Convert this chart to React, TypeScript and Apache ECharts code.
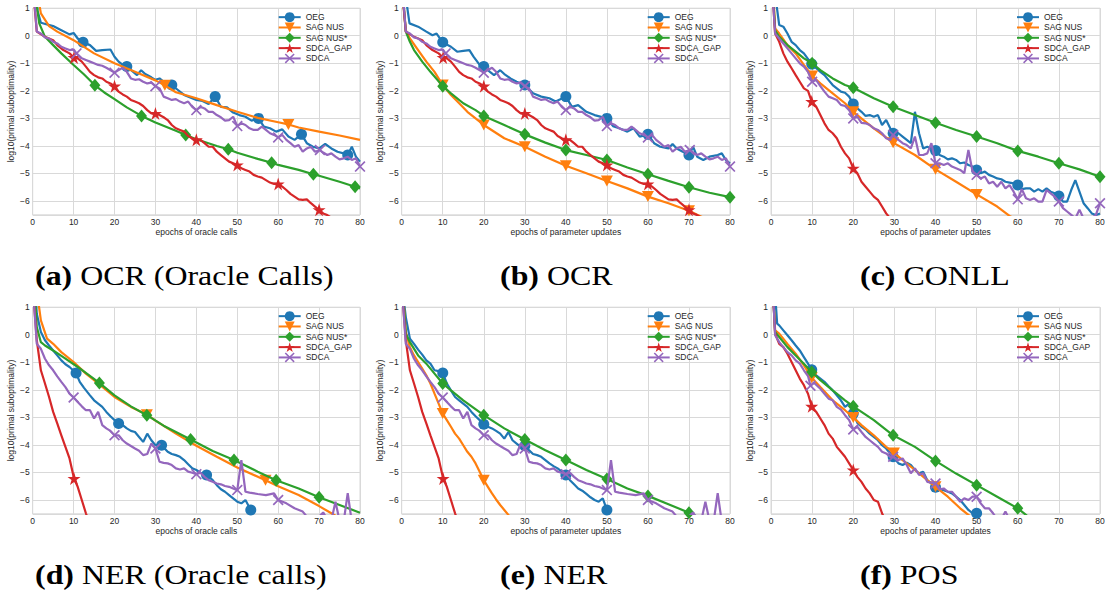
import React, { useEffect, useRef } from "react";
import * as echarts from "echarts";

type P = [number, number][];

// ---------- names, categories, tick labels ----------
const SERIES_NAMES = ["OEG", "SAG NUS", "SAG NUS*", "SDCA_GAP", "SDCA"];
const X_TICKS = [0, 10, 20, 30, 40, 50, 60, 70, 80];
const Y_TICKS = [1, 0, -1, -2, -3, -4, -5, -6];
const CAPTION_LABELS = ["(a)", "(b)", "(c)", "(d)", "(e)", "(f)"];
const CAPTION_TITLES = ["OCR (Oracle Calls)", "OCR", "CONLL", "NER (Oracle calls)", "NER", "POS"];
const X_NAMES = [
  "epochs of oracle calls",
  "epochs of parameter updates",
  "epochs of parameter updates",
  "epochs of oracle calls",
  "epochs of parameter updates",
  "epochs of parameter updates",
];
const Y_NAME = "log10(primal suboptimality)";

// ---------- (a) OCR, oracle calls ----------
const A_OEG: P = [[0.8,1.5],[1.2,0.9],[2,0.47],[5,0.35],[7,0.2],[9,0.05],[10,0.1],[11,-0.1],[12.3,-0.24],[14,-0.34],[15.5,-0.55],[17,-0.52],[19,-0.5],[20,-0.76],[21,-0.94],[22,-1.06],[23,-1.12],[24.5,-1.3],[25.5,-1.43],[26.5,-1.25],[27.5,-1.39],[29,-1.51],[30,-1.6],[31,-1.55],[32.5,-1.73],[34,-1.79],[35.5,-1.97],[37,-2.15],[38.5,-2.24],[40,-2.33],[41.5,-2.37],[43,-2.48],[44.6,-2.21],[46,-2.58],[47.5,-2.6],[49,-2.79],[50.5,-2.88],[52,-2.94],[53.5,-3.08],[55.2,-3.0],[56.5,-3.3],[58,-3.36],[59.5,-3.48],[61,-3.4],[62.5,-3.66],[64,-3.78],[65.7,-3.58],[67,-3.9],[68.5,-4.03],[70,-4.09],[71.5,-3.93],[73,-4.09],[74.5,-4.21],[76,-4.27],[77,-4.33],[78,-4.03],[79,-4.39],[80,-4.57]];
const A_OEG_MK = [12.3, 23, 34, 44.6, 55.2, 65.7, 77];
const A_SAG: P = [[1.2,1.5],[2,0.81],[4,0.35],[6,0.15],[10,-0.16],[15,-0.64],[20,-1.0],[25,-1.31],[30,-1.62],[32.3,-1.8],[35,-2.05],[40,-2.27],[45,-2.52],[50,-2.76],[55,-2.98],[60,-3.14],[62.5,-3.22],[65,-3.33],[70,-3.48],[75,-3.62],[80,-3.78]];
const A_SAG_MK = [32.3, 62.5];
const A_SAGS: P = [[0.6,1.5],[1.6,0.45],[3,-0.04],[5,-0.34],[7,-0.64],[10,-1.06],[12.5,-1.4],[15.2,-1.8],[17.5,-2.06],[20,-2.3],[23,-2.6],[26.6,-2.91],[30,-3.15],[35,-3.45],[37.4,-3.6],[40,-3.76],[45,-4.0],[47.8,-4.12],[50,-4.25],[55,-4.47],[58.4,-4.61],[60,-4.69],[65,-4.87],[68.6,-5.03],[70,-5.08],[75,-5.3],[78.8,-5.48],[80,-5.54]];
const A_SAGS_MK = [15.2, 26.6, 37.4, 47.8, 58.4, 68.6, 78.8];
const A_GAP: P = [[0.2,1.5],[1,0.15],[3,-0.04],[5,-0.16],[6,-0.34],[7.5,-0.52],[9,-0.64],[10.1,-0.79],[11,-0.82],[12,-0.94],[13,-1.12],[14,-1.31],[15,-1.43],[16,-1.51],[17,-1.55],[18,-1.67],[19,-1.73],[20,-1.83],[21,-2.03],[22,-2.13],[23,-2.21],[24,-2.33],[25,-2.39],[26,-2.45],[27,-2.55],[28,-2.7],[29,-2.82],[30,-2.82],[31,-2.88],[32,-2.96],[33,-3.06],[34,-3.24],[35,-3.36],[36,-3.42],[37,-3.48],[38,-3.64],[39,-3.72],[40,-3.78],[41,-3.78],[42,-3.9],[43,-4.03],[44,-4.03],[45,-4.21],[46,-4.33],[47,-4.45],[48,-4.57],[49,-4.63],[50,-4.69],[51,-4.81],[52,-4.87],[53,-4.93],[54,-5.05],[55,-5.11],[56,-5.15],[57,-5.24],[58,-5.33],[59,-5.38],[60,-5.38],[61,-5.48],[62,-5.6],[63,-5.74],[64,-5.84],[65,-5.94],[66,-5.96],[67,-5.94],[68,-6.08],[69,-6.2],[70,-6.32],[71,-6.45],[72,-6.51],[74,-6.7]];
const A_GAP_MK = [10.1, 20, 30, 40, 50, 60, 70];
const A_SDCA: P = [[0.3,1.5],[1,0.15],[2,0.08],[3,-0.06],[4,-0.1],[5,-0.22],[6,-0.28],[7,-0.4],[8,-0.46],[9,-0.52],[10,-0.5],[10.7,-0.64],[12,-0.82],[13,-0.88],[14,-0.94],[15,-1.0],[16,-1.06],[17,-1.09],[18,-1.16],[20,-1.34],[21,-1.25],[22,-1.16],[23,-1.31],[24,-1.55],[25,-1.6],[26,-1.58],[27,-1.67],[28,-1.73],[29,-1.7],[30,-1.83],[31,-1.91],[32,-2.21],[33,-2.27],[34,-2.33],[35,-2.3],[36,-2.39],[37,-2.45],[38,-2.39],[39,-2.58],[40,-2.7],[41,-2.58],[42,-2.64],[43,-2.76],[44,-2.76],[45,-2.88],[46,-2.96],[47,-3.08],[48,-3.06],[49,-2.94],[50,-3.28],[51,-3.18],[52,-3.24],[53,-3.36],[54,-3.42],[55,-3.42],[56,-3.3],[57,-3.42],[58,-3.54],[59,-3.6],[60,-3.69],[61,-3.6],[62,-3.78],[63,-3.9],[64,-4.03],[65,-3.97],[66,-4.21],[67,-4.09],[68,-4.03],[69,-4.21],[70.2,-4.15],[71,-4.24],[72,-4.33],[73,-4.27],[74,-4.39],[75,-4.49],[76,-4.45],[77,-4.39],[78,-4.51],[79,-4.45],[80,-4.75]];
const A_SDCA_MK = [10.7, 20, 30, 40, 50, 60, 70.2, 80];

// ---------- (b) OCR, parameter updates ----------
const B_OEG: P = [[0.9,1.5],[1.9,0.45],[4,0.33],[6,0.15],[7.5,0.02],[8.5,0.08],[10,-0.24],[12,-0.4],[13.5,-0.58],[15,-0.55],[16.5,-0.52],[17.5,-0.76],[19,-1.06],[20,-1.12],[21.5,-1.31],[22.5,-1.43],[24,-1.25],[25,-1.39],[26.5,-1.55],[28,-1.67],[30,-1.79],[32,-2.09],[34,-2.21],[36,-2.27],[37.5,-2.39],[40,-2.21],[41.5,-2.58],[43,-2.52],[45,-2.76],[47,-2.88],[50,-3.0],[51.5,-3.28],[53,-3.36],[55,-3.48],[56.5,-3.36],[58,-3.66],[60,-3.58],[61.5,-3.9],[63,-4.03],[65,-4.09],[66,-3.93],[67,-4.09],[68.5,-4.21],[69.5,-4.27],[70,-4.33],[71,-4.03],[72,-4.39],[73.5,-4.51],[75,-4.39],[77,-4.33],[78,-4.27],[79,-4.51],[80,-4.63]];
const B_OEG_MK = [10, 20, 30, 40, 50, 60, 70];
const B_SAG: P = [[0.25,1.5],[1,0.2],[2,-0.1],[4,-0.52],[6,-0.94],[8,-1.31],[10,-1.79],[12,-2.15],[14,-2.45],[16,-2.76],[18,-3.0],[20,-3.24],[25,-3.72],[30,-4.03],[35,-4.39],[40,-4.72],[45,-4.99],[50,-5.27],[55,-5.54],[60,-5.84],[65,-6.08],[70,-6.35],[72,-6.5],[75,-6.7]];
const B_SAG_MK = [10, 20, 30, 40, 50, 60, 70];
const B_SAGS: P = [[0.25,1.5],[1,0.15],[2,-0.22],[3,-0.52],[5,-0.94],[7,-1.31],[10,-1.83],[12,-2.09],[15,-2.45],[18,-2.7],[20,-2.91],[25,-3.24],[30,-3.58],[35,-3.88],[40,-4.15],[45,-4.33],[50,-4.51],[55,-4.78],[60,-5.03],[65,-5.27],[70,-5.5],[75,-5.7],[80,-5.86]];
const B_SAGS_MK = [10, 20, 30, 40, 50, 60, 70, 80];

// ---------- (c) CONLL ----------
const C_OEG: P = [[1.0,1.5],[2,0.39],[3,0.33],[4,0.08],[5,-0.22],[6,-0.34],[7,-0.52],[8,-0.64],[9.9,-1.03],[11,-1.18],[12,-1.31],[13,-1.43],[14,-1.61],[15,-1.79],[16,-1.91],[17,-2.03],[18,-2.07],[19,-2.21],[20,-2.48],[21,-2.64],[22,-2.76],[23,-2.91],[24,-2.88],[25,-2.94],[26,-2.88],[27,-3.24],[28,-3.06],[29,-3.36],[29.7,-3.54],[31,-3.54],[32,-3.66],[33,-3.78],[34,-3.9],[35,-2.76],[36,-3.54],[37,-4.09],[38,-4.03],[39,-4.09],[40,-4.17],[41,-4.33],[42,-4.39],[43,-4.49],[44,-4.45],[45,-4.51],[46,-4.63],[47,-4.6],[48,-4.69],[49,-4.75],[50,-4.87],[51,-4.99],[52,-4.93],[53,-5.05],[54,-5.11],[55,-5.18],[56,-5.21],[57,-5.3],[58,-5.33],[59,-5.36],[60,-5.42],[61,-5.57],[62,-5.54],[63,-5.54],[64,-5.66],[65,-5.57],[66,-5.66],[67,-5.54],[68,-5.66],[69,-5.72],[70,-5.82],[71,-6.02],[72,-6.02],[73,-5.6],[74,-5.24],[75,-5.66],[76,-6.08],[77,-6.26],[78,-6.45],[79,-6.51],[80,-6.45]];
const C_OEG_MK = [9.9, 20, 29.7, 40, 50, 60, 70];
const C_SAG: P = [[0.55,1.5],[1,0.27],[2,0.08],[4,-0.34],[6,-0.64],[8,-1.06],[10,-1.46],[12,-1.73],[15,-2.09],[18,-2.45],[20,-2.76],[25,-3.36],[29.7,-3.88],[35,-4.33],[40,-4.85],[45,-5.3],[50,-5.76],[55,-6.2],[58,-6.54],[60,-6.7]];
const C_SAG_MK = [10, 20, 29.7, 40, 50];
const C_SAGS: P = [[0.5,1.5],[1,0.2],[2,-0.04],[4,-0.34],[6,-0.58],[8,-0.82],[10,-1.0],[12,-1.25],[15,-1.55],[18,-1.79],[20,-1.89],[25,-2.27],[29.7,-2.58],[35,-2.88],[40,-3.16],[45,-3.42],[50,-3.66],[55,-3.9],[60,-4.18],[65,-4.39],[70,-4.63],[75,-4.85],[80,-5.12]];
const C_SAGS_MK = [10, 20, 29.7, 40, 50, 60, 70, 80];
const C_GAP: P = [[0.4,1.5],[1,0.08],[2,-0.22],[3,-0.64],[4,-0.94],[5,-1.18],[6,-1.43],[7,-1.67],[8,-1.91],[9,-2.0],[9.9,-2.39],[11,-2.58],[12,-2.88],[13,-3.18],[14,-3.42],[15,-3.54],[16,-3.72],[17,-4.03],[18,-4.27],[19,-4.45],[20,-4.81],[21,-4.99],[22,-5.3],[23,-5.48],[24,-5.66],[25,-5.84],[26,-5.96],[27,-6.2],[28,-6.45],[29,-6.63],[30,-6.8]];
const C_GAP_MK = [9.9, 20];
const C_SDCA: P = [[0.4,1.5],[1,0.08],[2,-0.1],[3,-0.28],[4,-0.46],[5,-0.64],[6,-0.82],[7,-1.0],[8,-1.12],[9,-1.31],[10,-1.67],[11,-1.61],[12,-1.83],[13,-2.03],[14,-2.21],[15,-2.27],[16,-2.33],[17,-2.51],[18,-2.55],[19,-2.7],[20,-3.0],[21,-2.94],[22,-3.16],[23,-3.18],[24,-3.24],[25,-3.36],[26,-3.42],[27,-3.54],[28,-3.72],[29,-3.78],[29.7,-3.6],[31,-3.78],[32,-3.9],[33,-3.97],[34,-4.09],[35,-3.66],[36,-4.33],[37,-4.33],[38,-4.27],[39,-3.9],[40,-4.63],[41,-4.63],[42,-4.69],[43,-4.63],[44,-4.75],[45,-4.81],[46,-4.87],[47,-4.99],[48,-4.15],[49,-4.93],[50,-5.05],[51,-5.18],[52,-5.11],[53,-5.36],[54,-5.3],[55,-5.48],[56,-5.3],[57,-5.54],[58,-5.42],[59,-5.66],[60,-5.94],[61,-5.57],[62,-5.9],[63,-5.96],[64,-5.9],[65,-6.02],[66,-6.02],[67,-5.6],[68,-5.72],[69,-5.84],[70,-6.02],[71,-6.26],[72,-6.38],[73,-6.5],[74,-6.63],[75,-6.32],[76,-6.63],[77,-6.7],[78,-6.63],[79,-6.5],[80,-6.08]];
const C_SDCA_MK = [10, 20, 29.7, 40, 50, 60, 70, 80];

// ---------- (d) NER, oracle calls ----------
const D_OEG: P = [[0.7,1.5],[1,0.76],[2,0.1],[3,-0.2],[4,-0.39],[5,-0.57],[6,-0.75],[7,-0.93],[8,-1.07],[9,-1.17],[10.6,-1.39],[11.5,-1.71],[12.5,-1.92],[14,-2.2],[15,-2.38],[16,-2.5],[17,-2.62],[18,-2.8],[19,-2.96],[20,-3.1],[21,-3.22],[22,-3.28],[23,-3.4],[24,-3.49],[25,-3.53],[26,-3.71],[27,-3.89],[28,-3.59],[29,-3.83],[30,-4.01],[31.5,-4.01],[33,-4.25],[34,-4.33],[35,-4.37],[36,-4.43],[37,-4.55],[38,-4.7],[39,-4.85],[40,-4.91],[41,-5.01],[42.5,-5.09],[44,-5.28],[45,-5.46],[46,-5.61],[47,-5.7],[48,-5.82],[49,-5.94],[50,-6.06],[51,-6.12],[52,-6.0],[53.3,-6.36],[54,-6.72]];
const D_OEG_MK = [10.6, 21, 31.5, 42.5, 53.3];
const D_SAG: P = [[1.1,1.5],[2,0.52],[3.5,-0.14],[5,-0.33],[7,-0.63],[10,-0.99],[13,-1.41],[16,-1.77],[20,-2.26],[24,-2.62],[27.9,-2.9],[30,-3.12],[35,-3.59],[40,-4.03],[45,-4.43],[50,-4.82],[56.9,-5.28],[60,-5.5],[65,-5.82],[70,-6.22],[73,-6.48],[75,-6.66]];
const D_SAG_MK = [27.9, 56.9];
const D_SAGS: P = [[0.5,1.5],[1,0.28],[2,-0.27],[3,-0.39],[5,-0.57],[8,-0.87],[11,-1.17],[16.3,-1.75],[20,-2.2],[24,-2.6],[27.9,-2.92],[32,-3.3],[38.6,-3.8],[44,-4.22],[49.2,-4.55],[55,-4.97],[59.5,-5.28],[65,-5.58],[70,-5.9],[75,-6.18],[80,-6.46]];
const D_SAGS_MK = [16.3, 27.9, 38.6, 49.2, 59.5, 70];
const D_GAP: P = [[0.15,1.5],[1,-0.2],[2,-1.29],[3,-1.77],[4,-2.26],[5,-2.8],[6,-3.22],[7,-3.65],[8,-4.07],[9,-4.49],[10.1,-5.22],[11,-5.52],[12,-6.0],[13,-6.48],[14,-6.9]];
const D_GAP_MK = [10.1];
const D_SDCA: P = [[0.15,1.5],[1,-0.33],[2,-0.51],[3,-0.87],[4,-1.11],[5,-1.29],[6,-1.51],[7,-1.71],[8,-1.9],[9,-2.14],[10,-2.28],[11,-2.44],[12,-2.6],[13,-2.74],[14,-2.74],[15,-3.04],[16,-2.8],[17,-3.28],[18,-3.4],[19,-3.49],[20,-3.65],[21,-3.65],[22,-3.83],[23,-3.95],[24,-4.04],[25,-4.13],[26,-4.21],[27,-4.37],[28,-4.33],[29,-3.95],[30,-4.13],[31,-4.61],[32,-4.65],[33,-4.67],[34,-4.73],[35,-4.85],[36,-4.89],[37,-4.85],[38,-4.97],[39,-5.01],[40,-5.06],[41,-5.01],[42,-5.16],[43,-5.28],[44,-5.34],[45,-5.4],[46,-5.43],[47,-5.49],[48,-5.52],[49,-5.58],[50,-5.64],[51,-4.55],[52,-5.7],[53,-5.73],[55,-5.78],[57,-5.82],[59,-5.76],[60,-6.0],[62,-6.12],[64,-6.3],[66,-6.42],[67,-6.6],[68,-6.7],[70,-6.6],[71,-6.45],[72,-6.7],[73,-6.75],[74,-6.06],[75,-6.75],[76,-6.8],[77,-5.75],[78,-6.8],[80,-6.9]];
const D_SDCA_MK = [10, 20, 30, 40, 50, 60];

// ---------- (e) NER, parameter updates ----------
const E_OEG: P = [[0.3,1.5],[1,0.64],[2,-0.14],[3,-0.33],[4,-0.54],[5,-0.72],[6,-0.93],[7,-1.05],[8,-1.29],[9,-1.32],[10,-1.39],[11,-1.77],[12,-2.02],[13,-2.26],[14,-2.38],[15,-2.5],[16,-2.62],[17,-2.8],[18,-2.96],[19,-3.1],[20,-3.25],[21,-3.34],[22,-3.4],[23,-3.49],[24,-3.59],[25,-3.77],[26,-3.53],[27,-3.83],[28,-3.95],[29,-4.07],[30,-4.03],[31,-4.19],[32,-4.33],[33,-4.37],[34,-4.43],[35,-4.55],[36,-4.67],[37,-4.77],[38,-4.85],[39,-4.97],[40,-5.09],[41,-5.28],[42,-5.43],[43,-5.58],[44,-5.66],[45,-5.78],[46,-5.9],[47,-6.0],[48,-6.06],[49,-5.94],[50,-6.36],[51,-6.8]];
const E_OEG_MK = [10, 20, 30, 40, 50];
const E_SAG: P = [[0.3,1.5],[1,0.1],[2,-0.45],[3,-0.75],[4,-0.99],[5,-1.23],[6,-1.47],[7,-1.77],[8,-2.14],[9,-2.5],[10,-2.86],[11,-3.1],[12,-3.34],[13,-3.59],[14,-3.77],[15,-4.01],[16,-4.25],[17,-4.43],[18,-4.67],[19,-4.97],[20,-5.28],[21,-5.52],[22,-5.76],[23,-5.98],[24,-6.18],[25,-6.36],[26,-6.54],[27,-6.72]];
const E_SAG_MK = [10, 20];
const E_SAGS: P = [[0.3,1.5],[1,0.04],[2,-0.27],[4,-0.75],[6,-1.05],[8,-1.41],[10,-1.77],[12,-2.02],[15,-2.38],[20,-2.92],[25,-3.4],[30,-3.8],[35,-4.19],[40,-4.55],[45,-4.91],[50,-5.24],[55,-5.58],[60,-5.85],[65,-6.15],[70,-6.46],[72,-6.6]];
const E_SAGS_MK = [10, 20, 30, 40, 50, 60, 70];

// ---------- (f) POS ----------
const F_OEG: P = [[1.0,1.5],[1.5,0.4],[2,0.34],[3,0.16],[4,-0.02],[5,-0.2],[6,-0.39],[7,-0.57],[8,-0.81],[9,-1.05],[9.9,-1.27],[11,-1.47],[12,-1.59],[13,-1.71],[14,-1.87],[15,-2.02],[16,-2.2],[17,-2.38],[18,-2.62],[19,-2.5],[20,-2.86],[21,-3.2],[22,-3.34],[23,-3.44],[24,-3.59],[25,-3.71],[26,-3.83],[27,-4.01],[28,-4.13],[29,-4.31],[29.7,-4.43],[31,-4.67],[32,-4.73],[33,-4.65],[34,-4.73],[35,-4.91],[36,-5.03],[37,-4.97],[38,-5.28],[39,-5.4],[40,-5.54],[41,-5.61],[42,-5.64],[43,-5.7],[44,-5.76],[45,-5.88],[46,-6.0],[47,-6.18],[48,-6.36],[49,-6.48],[50,-6.48],[51,-6.6],[52,-6.8]];
const F_OEG_MK = [9.9, 20, 29.7, 40, 50];
const F_SAG: P = [[0.5,1.5],[1,0.16],[2,0.04],[4,-0.33],[6,-0.69],[8,-1.11],[9.9,-1.56],[12,-1.9],[15,-2.38],[18,-2.74],[20,-3.0],[22,-3.28],[25,-3.65],[28,-4.07],[29.9,-4.29],[32,-4.55],[35,-4.91],[38,-5.28],[40,-5.52],[43,-5.88],[46,-6.3],[48,-6.54],[50,-6.8]];
const F_SAG_MK = [9.9, 20, 29.9, 40];
const F_SAGS: P = [[0.5,1.5],[1,0.1],[2,-0.08],[4,-0.45],[6,-0.75],[8,-1.05],[9.9,-1.35],[12,-1.65],[15,-2.02],[18,-2.38],[20,-2.6],[25,-3.1],[29.7,-3.65],[35,-4.07],[40,-4.58],[45,-5.04],[50,-5.46],[55,-5.88],[60,-6.3],[62,-6.54],[64,-6.8]];
const F_SAGS_MK = [9.9, 20, 29.7, 40, 50, 60];
const F_GAP: P = [[0.5,1.5],[1,0.04],[2,-0.33],[3,-0.45],[4,-0.69],[5,-0.99],[6,-1.29],[7,-1.59],[8,-1.83],[9,-2.14],[9.9,-2.6],[11,-2.8],[12,-3.04],[13,-3.28],[14,-3.59],[15,-3.77],[16,-4.07],[17,-4.25],[18,-4.43],[19,-4.67],[20,-4.91],[21,-5.16],[22,-5.34],[23,-5.58],[24,-5.76],[25,-6.0],[26,-6.06],[27,-6.48],[28,-6.8]];
const F_GAP_MK = [9.9, 20];
const F_SDCA: P = [[0.5,1.5],[1,-0.02],[2,-0.27],[3,-0.45],[4,-0.63],[5,-0.75],[6,-0.93],[7,-1.05],[8,-1.29],[9,-1.5],[9.6,-1.85],[10.5,-1.75],[12,-1.96],[13,-2.14],[14,-2.32],[15,-2.38],[16,-2.62],[17,-2.72],[18,-2.92],[19,-3.1],[20,-3.44],[21,-3.34],[22,-3.53],[23,-3.71],[24,-3.83],[25,-3.95],[26,-4.07],[27,-4.25],[28,-4.31],[29,-4.43],[29.7,-4.43],[31,-4.55],[32,-4.49],[33,-4.73],[34,-5.03],[35,-4.85],[36,-5.09],[37,-5.03],[38,-5.34],[39,-5.37],[40,-5.4],[41,-5.61],[42,-5.58],[43,-5.7],[44,-5.7],[45,-5.88],[46,-6.06],[47,-5.94],[48,-6.0],[49,-5.88],[50,-5.88],[51,-6.12],[52,-6.3],[53,-6.3],[54,-6.48],[55,-6.7],[56,-6.7],[57,-6.42],[58,-6.7],[59,-6.8]];
const F_SDCA_MK = [9.6, 20, 29.7, 40, 50];

// panels: [series data, marker x positions] in SERIES_NAMES order
const PANELS: [P, number[]][][] = [
  [[A_OEG, A_OEG_MK], [A_SAG, A_SAG_MK], [A_SAGS, A_SAGS_MK], [A_GAP, A_GAP_MK], [A_SDCA, A_SDCA_MK]],
  [[B_OEG, B_OEG_MK], [B_SAG, B_SAG_MK], [B_SAGS, B_SAGS_MK], [A_GAP, A_GAP_MK], [A_SDCA, A_SDCA_MK]],
  [[C_OEG, C_OEG_MK], [C_SAG, C_SAG_MK], [C_SAGS, C_SAGS_MK], [C_GAP, C_GAP_MK], [C_SDCA, C_SDCA_MK]],
  [[D_OEG, D_OEG_MK], [D_SAG, D_SAG_MK], [D_SAGS, D_SAGS_MK], [D_GAP, D_GAP_MK], [D_SDCA, D_SDCA_MK]],
  [[E_OEG, E_OEG_MK], [E_SAG, E_SAG_MK], [E_SAGS, E_SAGS_MK], [D_GAP, D_GAP_MK], [D_SDCA, D_SDCA_MK]],
  [[F_OEG, F_OEG_MK], [F_SAG, F_SAG_MK], [F_SAGS, F_SAGS_MK], [F_GAP, F_GAP_MK], [F_SDCA, F_SDCA_MK]],
];

// ---------- styles ----------
const COLORS = ["#1f77b4", "#ff7f0e", "#2ca02c", "#d62728", "#9467bd"];
const SYMBOLS = [
  "circle",
  "path://M0,0L10,0L5,9Z",
  "diamond",
  "path://M5,0L6.18,3.62L10,3.62L6.91,5.86L8.09,9.5L5,7.24L1.91,9.5L3.09,5.86L0,3.62L3.82,3.62Z",
  "path://M0,1.1L1.1,0L5,3.9L8.9,0L10,1.1L6.1,5L10,8.9L8.9,10L5,6.1L1.1,10L0,8.9L3.9,5Z",
];
const SYMBOL_SIZES: any[] = [11, [12, 11], [11, 13], 13, 11];
const SANS = "Liberation Sans, Arial, sans-serif";
const SERIF = "Liberation Serif, Times New Roman, serif";
const TXT = "#262626";
const GRIDC = "#d9d9d9";
const COL_LEFT = [32.7, 401.7, 771];
const COL_WIDTH = [327.3, 328.3, 329];
const ROW_TOP = [8.2, 307.2];
const PLOT_H = 206.6;
const CAP_X = [35, 500, 860];
const CAP_Y = [275.5, 574.5];

const fmtY = (v: number) => {
  if (Math.abs(v - Math.round(v)) > 1e-6) return "";
  return v < 0 ? "\u2212" + Math.abs(v) : String(v);
};

function buildOption() {
  const grid: any[] = [];
  const xAxis: any[] = [];
  const yAxis: any[] = [];
  const series: any[] = [];
  const legend: any[] = [];
  const graphic: any[] = [];

  for (let g = 0; g < 6; g++) {
    const r = Math.floor(g / 3);
    const c = g % 3;
    grid.push({
      left: COL_LEFT[c],
      top: ROW_TOP[r],
      width: COL_WIDTH[c],
      height: PLOT_H,
      show: true,
      borderColor: GRIDC,
      borderWidth: 1,
      backgroundColor: "#ffffff",
      containLabel: false,
    });
    xAxis.push({
      type: "value",
      gridIndex: g,
      min: X_TICKS[0],
      max: X_TICKS[X_TICKS.length - 1],
      interval: X_TICKS[1] - X_TICKS[0],
      axisLine: { show: false },
      axisTick: { show: false },
      splitLine: { show: true, lineStyle: { color: GRIDC, width: 1 } },
      axisLabel: { fontSize: 8.5, color: TXT, fontFamily: SANS, margin: 3 },
      name: X_NAMES[g],
      nameLocation: "middle",
      nameGap: 13,
      nameTextStyle: { fontSize: 8.5, color: TXT, fontFamily: SANS },
    });
    yAxis.push({
      type: "value",
      gridIndex: g,
      min: -6.5,
      max: Y_TICKS[0],
      splitNumber: 8,
      axisLine: { show: false },
      axisTick: { show: false },
      splitLine: { show: true, lineStyle: { color: GRIDC, width: 1 } },
      axisLabel: { fontSize: 8.5, color: TXT, fontFamily: SANS, margin: 3, formatter: fmtY },
      name: Y_NAME,
      nameLocation: "middle",
      nameGap: 17,
      nameTextStyle: { fontSize: 8.5, color: TXT, fontFamily: SANS },
    });
    PANELS[g].forEach(([pts, marks], s) => {
      series.push({
        type: "line",
        name: SERIES_NAMES[s],
        xAxisIndex: g,
        yAxisIndex: g,
        clip: true,
        showSymbol: true,
        symbol: SYMBOLS[s],
        symbolSize: SYMBOL_SIZES[s],
        z: 2 + s,
        lineStyle: { width: 2.2, color: COLORS[s] },
        itemStyle: { color: COLORS[s], borderWidth: 0 },
        emphasis: { disabled: true },
        silent: true,
        data: pts.map((p) =>
          marks.some((m) => Math.abs(m - p[0]) < 1e-9) ? { value: p } : { value: p, symbol: "none" }
        ),
      });
    });
    legend.push({
      data: SERIES_NAMES,
      orient: "vertical",
      left: COL_LEFT[c] + 245,
      top: ROW_TOP[r] + 4,
      itemWidth: 22,
      itemHeight: 12.4,
      itemGap: 0.4,
      padding: 0,
      selectedMode: false,
      textStyle: { fontSize: 8.5, color: TXT, fontFamily: SANS },
    });
    graphic.push({
      type: "text",
      x: CAP_X[c],
      y: CAP_Y[r],
      scaleX: 1.14,
      style: {
        text: "{b|" + CAPTION_LABELS[g] + "} " + CAPTION_TITLES[g],
        fontSize: 28,
        fontFamily: SERIF,
        fill: "#000",
        verticalAlign: "middle",
        rich: { b: { fontSize: 28, fontFamily: SERIF, fontWeight: "bold", fill: "#000" } },
      },
    });
  }

  return {
    animation: false,
    backgroundColor: "#ffffff",
    grid,
    xAxis,
    yAxis,
    legend,
    series,
    graphic,
  };
}

export default function App() {
  const ref = useRef<HTMLDivElement>(null);
  useEffect(() => {
    document.body.style.margin = "0";
    if (!ref.current) return;
    const chart = echarts.init(ref.current, undefined, { renderer: "svg" });
    chart.setOption(buildOption() as any);
    return () => chart.dispose();
  }, []);
  return (
    <div
      ref={ref}
      style={{ position: "absolute", left: 0, top: 0, width: 1113, height: 593, background: "#fff" }}
    />
  );
}
